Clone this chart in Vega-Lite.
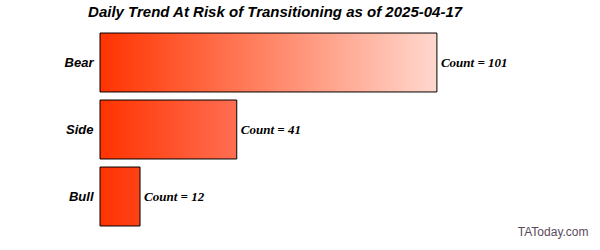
{
  "$schema": "https://vega.github.io/schema/vega-lite/v6.json",
  "width": 488,
  "height": 201,
  "autosize": {"type": "none"},
  "padding": {"left": 100, "top": 29, "right": 12, "bottom": 20},
  "background": "white",
  "config": {"view": {"stroke": null}},
  "title": {
    "text": "Daily Trend At Risk of Transitioning as of 2025-04-17",
    "font": "Liberation Sans",
    "fontSize": 15,
    "fontWeight": "bold",
    "fontStyle": "italic",
    "color": "black",
    "anchor": "start",
    "dx": 24,
    "baseline": "bottom",
    "offset": -6
  },
  "data": {
    "values": [
      {"trend": "Bear", "count": 101},
      {"trend": "Side", "count": 41},
      {"trend": "Bull", "count": 12}
    ]
  },
  "encoding": {
    "y": {
      "field": "trend",
      "type": "nominal",
      "sort": ["Bear", "Side", "Bull"],
      "scale": {"paddingInner": 0.12, "paddingOuter": 0.06},
      "axis": {
        "title": null,
        "domain": false,
        "ticks": false,
        "labelPadding": 7,
        "labelFont": "Liberation Sans",
        "labelFontSize": 13,
        "labelFontWeight": "bold",
        "labelFontStyle": "italic",
        "labelColor": "black"
      }
    },
    "x": {
      "field": "count",
      "type": "quantitative",
      "scale": {"domain": [0, 146.3], "nice": false},
      "axis": {
        "title": "TAToday.com",
        "titleAnchor": "end",
        "titleFont": "Liberation Sans",
        "titleFontSize": 12,
        "titleFontWeight": "normal",
        "titleColor": "#5a4a5a",
        "titlePadding": -4,
        "labels": false,
        "ticks": false,
        "domain": false,
        "grid": false
      }
    }
  },
  "layer": [
    {
      "transform": [{"filter": "datum.trend === 'Bear'"}],
      "mark": {
        "type": "bar",
        "stroke": "black",
        "strokeWidth": 1,
        "fill": {
          "gradient": "linear", "x1": 0, "x2": 1, "y1": 0, "y2": 0,
          "stops": [{"offset": 0, "color": "#ff3300"}, {"offset": 0.5, "color": "#ff8566"}, {"offset": 1, "color": "#ffd8ce"}]
        }
      }
    },
    {
      "transform": [{"filter": "datum.trend === 'Side'"}],
      "mark": {
        "type": "bar",
        "stroke": "black",
        "strokeWidth": 1,
        "fill": {
          "gradient": "linear", "x1": 0, "x2": 1, "y1": 0, "y2": 0,
          "stops": [{"offset": 0, "color": "#ff3300"}, {"offset": 1, "color": "#ff6e52"}]
        }
      }
    },
    {
      "transform": [{"filter": "datum.trend === 'Bull'"}],
      "mark": {
        "type": "bar",
        "stroke": "black",
        "strokeWidth": 1,
        "fill": {
          "gradient": "linear", "x1": 0, "x2": 1, "y1": 0, "y2": 0,
          "stops": [{"offset": 0, "color": "#ff3300"}, {"offset": 1, "color": "#ff4218"}]
        }
      }
    },
    {
      "transform": [{"calculate": "'Count = ' + datum.count", "as": "label"}],
      "mark": {
        "type": "text",
        "align": "left",
        "baseline": "middle",
        "dx": 4,
        "font": "Liberation Serif",
        "fontSize": 13,
        "fontWeight": "bold",
        "fontStyle": "italic",
        "color": "black"
      },
      "encoding": {
        "text": {"field": "label", "type": "nominal"}
      }
    }
  ]
}
